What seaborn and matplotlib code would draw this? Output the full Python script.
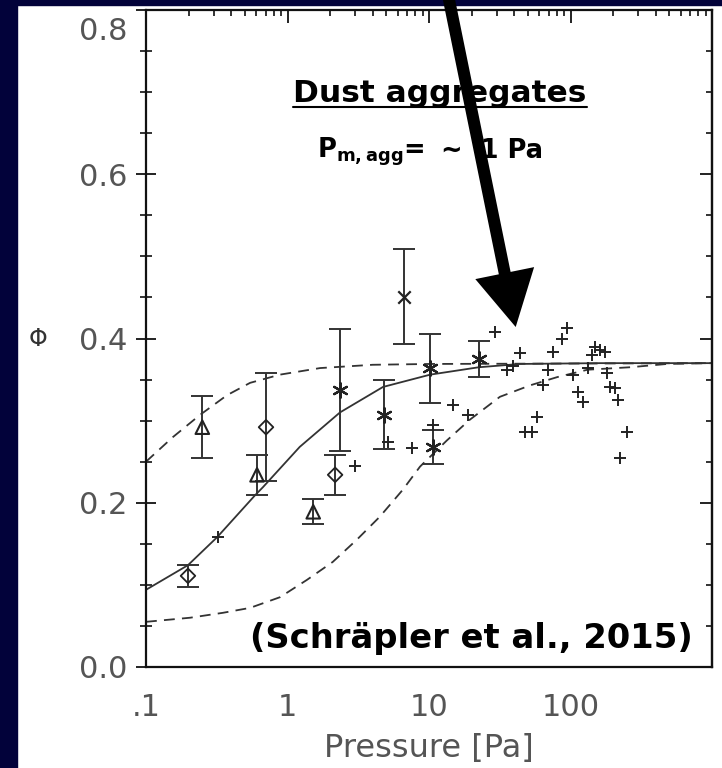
import numpy as np
import pandas as pd
import seaborn as sns
import matplotlib.pyplot as plt
from matplotlib.patches import Rectangle, FancyArrow
from matplotlib.lines import Line2D
from matplotlib.transforms import IdentityTransform, ScaledTranslation
from matplotlib.ticker import MultipleLocator, NullFormatter, FixedLocator

# solid fit curve and the two dashed bounds
fit_p = [0.1, 0.198, 0.318, 0.589, 0.671, 1.22, 2.35, 4.73, 10.2, 22.5, 44, 161, 1000]
fit_phi = [0.094, 0.124, 0.158, 0.209, 0.219, 0.268, 0.31, 0.341, 0.356, 0.365, 0.369, 0.370, 0.370]

upper_p = [0.1, 0.155, 0.241, 0.374, 0.544, 0.885, 1.70, 4.0, 10.2, 1000]
upper_phi = [0.250, 0.280, 0.307, 0.331, 0.346, 0.356, 0.364, 0.368, 0.369, 0.370]

lower_p = [0.1, 0.205, 0.350, 0.544, 0.885, 1.37, 2.09, 3.09, 4.49, 6.54, 8.64,
           13.4, 19.4, 31.7, 51.9, 80.6, 132, 264, 481, 1000]
lower_phi = [0.055, 0.060, 0.066, 0.072, 0.085, 0.106, 0.128, 0.155, 0.183, 0.216, 0.244,
             0.276, 0.301, 0.329, 0.343, 0.353, 0.362, 0.365, 0.369, 0.370]

# measurements with error bars, one list per symbol
diamond_p = [0.198, 0.705, 2.17]
diamond_phi = [0.111, 0.292, 0.234]
diamond_err = [0.013, 0.066, 0.024]

triangle_p = [0.25, 0.609, 1.52]
triangle_phi = [0.292, 0.234, 0.189]
triangle_err = [0.038, 0.024, 0.015]

aster_p = [2.35, 4.8, 10.2, 10.7, 22.5]
aster_phi = [0.337, 0.307, 0.364, 0.268, 0.375]
aster_err = [0.074, 0.042, 0.042, 0.021, 0.022]

cross_p = [6.67]
cross_phi = [0.451]
cross_err = [0.058]

# single measurements without error bars
plus_p = [0.323, 3.0, 5.1, 7.6, 10.7, 14.8, 18.9, 29.1, 35.6, 39.2, 44, 47.7, 53.5, 58,
          64, 69.3, 75.4, 87, 94.2, 104, 113, 123, 134, 143, 150, 161, 175, 180, 190,
          205, 215, 223, 250]
plus_phi = [0.158, 0.245, 0.274, 0.267, 0.295, 0.319, 0.307, 0.408, 0.362, 0.366, 0.382,
            0.286, 0.286, 0.305, 0.343, 0.362, 0.384, 0.400, 0.413, 0.356, 0.335, 0.323,
            0.364, 0.380, 0.390, 0.386, 0.384, 0.358, 0.341, 0.340, 0.325, 0.254, 0.286]

y_ticks = [0.0, 0.2, 0.4, 0.6, 0.8]
x_ticks = [0.1, 1, 10, 100, 1000]
x_labels = [".1", "1", "10", "100", ""]

W, H = 722, 768
navy = "#02023a"
ink = "#333333"
grey = "#555555"

sns.set_style("white")
plt.rcParams["font.family"] = ["DejaVu Sans"]
plt.rcParams["mathtext.fontset"] = "dejavusans"

fig = plt.figure(figsize=(W / 100, H / 100), dpi=100, facecolor="white")
fig.add_artist(Rectangle((0, 0), 17 / W, 1, transform=fig.transFigure, color=navy, zorder=-5))
fig.add_artist(Rectangle((0, 1 - 5 / H), 1, 5 / H, transform=fig.transFigure, color=navy, zorder=-5))

ax = fig.add_axes([146 / W, 1 - 667 / H, 566 / W, 657 / H])
ax.set_xscale("log")

sns.lineplot(x=fit_p, y=fit_phi, ax=ax, color=ink, lw=1.3, sort=False, estimator=None)
for xs, ys in [(upper_p, upper_phi), (lower_p, lower_phi)]:
    sns.lineplot(x=xs, y=ys, ax=ax, color=ink, lw=1.3, sort=False, estimator=None,
                 linestyle=(0, (6, 4)))

for xs, ys, es in [(diamond_p, diamond_phi, diamond_err), (triangle_p, triangle_phi, triangle_err),
                   (aster_p, aster_phi, aster_err), (cross_p, cross_phi, cross_err)]:
    ax.errorbar(xs, ys, yerr=es, fmt="none", ecolor=ink, elinewidth=1.4,
                capsize=8, capthick=1.4, zorder=3)

sns.scatterplot(x=diamond_p, y=diamond_phi, ax=ax, marker="D", s=55, facecolors="none",
                edgecolor="#222222", linewidth=1.3, zorder=4)
sns.scatterplot(x=triangle_p, y=triangle_phi, ax=ax, marker="^", s=95, facecolors="none",
                edgecolor="#222222", linewidth=1.5, zorder=4)
sns.scatterplot(x=aster_p, y=aster_phi, ax=ax, marker=(6, 2, 0), s=110, color="#222222",
                linewidth=1.6, zorder=4)
sns.scatterplot(x=cross_p, y=cross_phi, ax=ax, marker="x", s=80, color="#222222",
                linewidth=1.6, zorder=4)
sns.scatterplot(x=plus_p, y=plus_phi, ax=ax, marker="+", s=70, color="#222222",
                linewidth=1.4, zorder=4)

ax.set_xlim(0.1, 1000)
ax.set_ylim(0, 0.8)
ax.xaxis.set_major_locator(FixedLocator(x_ticks))
ax.set_xticklabels(x_labels)
ax.xaxis.set_minor_formatter(NullFormatter())
ax.set_yticks(y_ticks)
ax.set_yticklabels([f"{v:.1f}" for v in y_ticks])
ax.yaxis.set_minor_locator(MultipleLocator(0.05))

# x ticks point inward on top and bottom, y ticks cross the left spine
ax.tick_params(axis="x", which="both", direction="in", top=True, color="#111111")
ax.tick_params(axis="x", which="major", length=9, width=1.3, pad=19)
ax.tick_params(axis="x", which="minor", length=4.5, width=1.2)
ax.tick_params(axis="y", which="both", direction="inout", left=True, right=False, color="#111111")
ax.tick_params(axis="y", which="major", length=14, width=1.3, pad=6.5)
ax.tick_params(axis="y", which="minor", length=9, width=1.2)
ax.tick_params(which="major", labelsize=22, labelcolor=grey)

right = ax.secondary_yaxis("right")
right.set_yticks(y_ticks)
right.yaxis.set_minor_locator(MultipleLocator(0.05))
right.tick_params(which="both", direction="in", labelright=False, color="#111111")
right.tick_params(which="major", length=9, width=1.3)
right.tick_params(which="minor", length=4.5, width=1.2)
right.spines["right"].set_linewidth(1.6)

for s in ax.spines.values():
    s.set_linewidth(1.6)
    s.set_color("#111111")

# the top label sits lower than its tick in the original
top_lbl = ax.get_yticklabels()[-1]
top_lbl.set_transform(top_lbl.get_transform() + ScaledTranslation(0, -0.19, fig.dpi_scale_trans))

ax.set_xlabel("Pressure [Pa]", fontsize=23, color=grey, va="center")
ax.xaxis.set_label_coords(0.5, (667 - 749) / 657)
ax.set_ylabel("Φ", rotation=0, fontsize=17, color=ink, va="center", ha="center")
ax.yaxis.set_label_coords((38 - 146) / 566, 0.5)


def fx(x):
    return x / W


def fy(y):
    return 1 - y / H


fig.text(fx(293), fy(102), "Dust aggregates", fontsize=22.5, weight="bold", color="black",
         ha="left", va="baseline")
fig.add_artist(Line2D([fx(293), fx(587)], [fy(107), fy(107)], transform=fig.transFigure,
                      color="black", lw=1.5))
fig.text(fx(317), fy(158), r"$\mathbf{P}_{\mathbf{m,agg}}$=", fontsize=18.5, weight="bold",
         color="black", ha="left", va="baseline")
fig.text(fx(543), fy(158), "~  1 Pa", fontsize=18.5, weight="bold", color="black",
         ha="right", va="baseline")
fig.text(fx(250), fy(648), "(Schräpler et al., 2015)", fontsize=24.3, weight="bold",
         color="black", ha="left", va="baseline")

# big pointer arrow coming in from the top edge
fig.add_artist(FancyArrow(447, H + 10, 68.7, -(327 + 10), width=12, head_width=60,
                          head_length=55, length_includes_head=True, fc="black", ec="none",
                          transform=IdentityTransform(), zorder=10))

fig.savefig("out.png", dpi=100, facecolor=fig.get_facecolor())
